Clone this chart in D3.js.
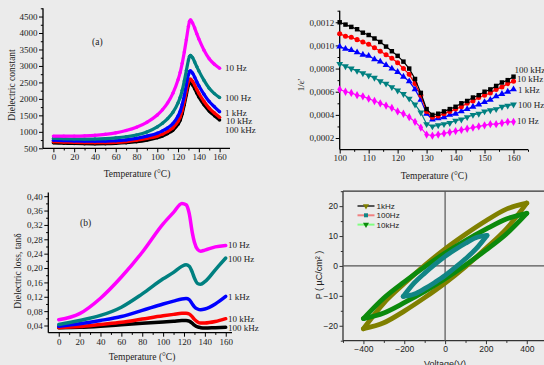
<!DOCTYPE html>
<html>
<head>
<meta charset="utf-8">
<script src="https://cdn.jsdelivr.net/npm/d3@7"></script>
<style>
body { margin: 0; background: #ebebeb; }
svg { display: block; }
</style>
</head>
<body>
<svg id="chart" width="544" height="365"></svg>
<script>
// ---- (a) dielectric constant vs temperature
const tempA = [0,10,20,30,40,50,60,70,80,90,100,105,110,115,120,122,124,126,128,130,131,132,134,136,138,140,145,150,155,160];
const epsA10Hz   = [870,868,870,878,895,925,970,1040,1140,1290,1510,1670,1880,2170,2580,2800,3080,3420,3800,4200,4350,4400,4300,4150,3980,3820,3480,3220,3050,2930];
const epsA100Hz  = [800,790,782,780,782,792,815,850,905,995,1150,1260,1400,1590,1880,2040,2260,2540,2860,3180,3290,3320,3250,3120,2980,2850,2560,2320,2160,2040];
const epsA1kHz   = [745,735,725,718,715,718,730,755,800,870,960,1030,1120,1250,1480,1620,1830,2100,2430,2740,2830,2850,2780,2660,2520,2400,2140,1920,1760,1610];
const epsA10kHz  = [700,690,680,673,670,672,682,705,745,800,870,930,1010,1120,1320,1450,1650,1920,2230,2520,2590,2600,2530,2420,2290,2170,1920,1720,1570,1440];
const epsA100kHz = [665,655,645,638,635,638,648,668,700,750,820,875,950,1050,1230,1350,1550,1820,2120,2410,2480,2490,2420,2310,2180,2060,1820,1630,1490,1360];

// ---- 1/eps' vs temperature
const tempB = d3.range(100, 161, 2);
const invB100kHz = [.00120,.00118,.00116,.00114,.00111,.00109,.00106,.00103,.00099,.00095,.00091,.00086,.00080,.00071,.00059,.00045,.00040,.00041,.00043,.00045,.00047,.00050,.00052,.00055,.00057,.00060,.00062,.00065,.00068,.00070,.00073];
const invB10kHz  = [.00110,.00108,.00107,.00105,.00103,.00101,.00098,.00095,.00092,.00089,.00085,.00080,.00075,.00067,.00057,.00043,.00038,.00039,.00041,.00043,.00045,.00047,.00050,.00052,.00055,.00057,.00059,.00062,.00064,.00067,.00069];
const invB1kHz   = [.00099,.00097,.00096,.00094,.00092,.00091,.00088,.00086,.00083,.00080,.00077,.00073,.00069,.00062,.00053,.00041,.00036,.00037,.00038,.00040,.00041,.00043,.00045,.00047,.00049,.00051,.00053,.00056,.00058,.00060,.00062];
const invB100Hz  = [.00084,.00082,.00080,.00078,.00076,.00074,.00072,.00069,.00067,.00064,.00061,.00058,.00054,.00049,.00042,.00032,.00030,.00031,.00032,.00033,.00035,.00036,.00038,.00040,.00041,.00043,.00044,.00045,.00047,.00048,.00049];
const invB10Hz   = [.00062,.00060,.00059,.00057,.00056,.00054,.00052,.00050,.00048,.00046,.00043,.00041,.00038,.00034,.00029,.00023,.00022,.00023,.00024,.00025,.00026,.00027,.00028,.00029,.00030,.00031,.00032,.00032,.00033,.00034,.00034];

// ---- (b) tan delta vs temperature
const tempC = [0,20,40,60,80,100,110,118,122,125,128,130,133,136,140,150,160];
const tanC10Hz   = [.056,.073,.116,.175,.244,.323,.355,.380,.376,.352,.298,.272,.252,.247,.250,.259,.263];
const tanC100Hz  = [.043,.054,.068,.091,.128,.170,.188,.205,.209,.205,.188,.172,.157,.155,.162,.195,.228];
const tanC1kHz   = [.038,.045,.054,.065,.082,.100,.108,.114,.115,.112,.100,.092,.086,.084,.086,.100,.121];
const tanC10kHz  = [.034,.037,.043,.049,.058,.067,.071,.074,.074,.072,.064,.057,.050,.047,.047,.051,.059];
const tanC100kHz = [.034,.035,.038,.042,.046,.050,.052,.054,.054,.052,.046,.041,.036,.034,.033,.034,.035];

// ---- P-V loops, upper (falling V) and lower (rising V) branch
const voltLoop = [-400,-300,-200,-100,0,100,200,300,400];
const pUpper1kHz  = [-21,-12.4,-5.9,0.2,5.7,10.6,15.1,19,21];
const pLower1kHz  = [-21,-19,-15.1,-10.6,-5.7,-0.2,5.9,12.4,21];
const pUpper10kHz = [-17.6,-10.7,-5.3,-0.3,4.3,8.5,12.3,15.7,17.6];
const pLower10kHz = [-17.6,-15.7,-12.3,-8.5,-4.3,0.3,5.3,10.7,17.6];
const voltLoop100 = [-205,-150,-100,-50,0,50,100,150,205];
const pUpper100Hz = [-10.2,-5.6,-2.4,0.5,3.2,5.5,7.6,9.4,10.2];
const pLower100Hz = [-10.2,-9.4,-7.6,-5.5,-3.2,-0.5,2.4,5.6,10.2];

const serif = "'Liberation Serif','Times New Roman',serif";
const sans = "'Liberation Sans',Arial,sans-serif";
const svg = d3.select("#chart");

const comma = f => v => f(v).replace(".", ",");

function frame(x, y, c) {
  const g = svg.append("g");
  const left = x.range()[0], bottom = y.range()[0];
  const col = c.color || "#000";
  // bottom ticks
  const bx = g.append("g").attr("transform", `translate(0,${bottom})`);
  bx.call(d3.axisBottom(x).tickValues(c.xMajor).tickSize(c.tick || 4).tickPadding(1.5).tickFormat(c.xFmt || d3.format("d")));
  bx.append("g").call(d3.axisBottom(x).tickValues(c.xMinor).tickSize(2.2).tickFormat(""));
  // left ticks
  const ly = g.append("g").attr("transform", `translate(${left},0)`);
  ly.call(d3.axisLeft(y).tickValues(c.yMajor).tickSize(c.tick || 4).tickPadding(1.5).tickFormat(c.yFmt || d3.format("d")));
  ly.append("g").call(d3.axisLeft(y).tickValues(c.yMinor).tickSize(2.2).tickFormat(""));
  g.selectAll(".domain").remove();
  g.selectAll(".tick line").attr("stroke", col).attr("stroke-width", 1);
  g.selectAll(".tick text").attr("fill", c.textColor || "#222").style("font-family", c.font).style("font-size", (c.fs || 9) + "px");
  // axis lines
  g.append("line").attr("x1", left).attr("x2", x.range()[1]).attr("y1", bottom).attr("y2", bottom).attr("stroke", col).attr("stroke-width", 1.3);
  g.append("line").attr("x1", left).attr("x2", left).attr("y1", bottom).attr("y2", y.range()[1]).attr("stroke", col).attr("stroke-width", 1.3);
  return g;
}

function label(txt, x, y, o = {}) {
  const t = svg.append("text").attr("x", x).attr("y", y)
    .style("font-family", o.font || serif).style("font-size", (o.fs || 9) + "px")
    .attr("fill", o.fill || "#222").attr("text-anchor", o.anchor || "start");
  if (o.rot) t.attr("transform", `rotate(-90,${x},${y})`);
  t.text(txt);
  return t;
}

// ================= (a)
{
  const x = d3.scaleLinear().domain([-10, 170]).range([43, 230]);
  const y = d3.scaleLinear().domain([500, 4750]).range([148.3, 8.3]);
  frame(x, y, {
    xMajor: d3.range(0, 161, 20), xMinor: d3.range(10, 170, 20),
    yMajor: d3.range(500, 4501, 500), yMinor: d3.range(750, 4751, 500), font: serif
  });
  const series = [
    [epsA100kHz, "#000"], [epsA10kHz, "#ff0000"], [epsA1kHz, "#0000ff"],
    [epsA100Hz, "#008080"], [epsA10Hz, "#ff00ff"]
  ];
  const line = d3.line().x((d, i) => x(tempA[i])).y(d => y(d)).curve(d3.curveMonotoneX);
  series.forEach(([vals, col]) => {
    svg.append("path").attr("d", line(vals)).attr("fill", "none").attr("stroke", col).attr("stroke-width", 3.2);
    svg.append("g").selectAll("circle").data(vals).join("circle")
      .attr("cx", (d, i) => x(tempA[i])).attr("cy", d => y(d)).attr("r", 1.7).attr("fill", col);
  });
  label("(a)", 92, 45, { fs: 9.5 });
  label("10 Hz", 225, 70.5);
  label("100 Hz", 225, 101);
  label("1 kHz", 225, 115.5);
  label("10 kHz", 226, 124);
  label("100 kHz", 225, 133);
  label("Dielectric constant", 14.5, 85, { rot: true, anchor: "middle", fs: 9.5 });
  label("Temperature (\u00B0C)", 137, 176.5, { anchor: "middle", fs: 9.5 });
}

// ================= 1/eps'
{
  const x = d3.scaleLinear().domain([100, 165]).range([339.7, 528]);
  const y = d3.scaleLinear().domain([0.0001, 0.0013]).range([149.6, 10.7]);
  frame(x, y, {
    xMajor: d3.range(100, 161, 10), xMinor: d3.range(105, 166, 10),
    yMajor: d3.range(0.0002, 0.00121, 0.0002), yMinor: d3.range(0.0003, 0.00131, 0.0002),
    yFmt: comma(d3.format(".4f")), font: serif
  });
  const series = [
    [invB10Hz, "#ff00ff", d3.symbolDiamond],
    [invB100Hz, "#008080", "down"],
    [invB1kHz, "#0000ff", d3.symbolTriangle],
    [invB10kHz, "#ff0000", d3.symbolCircle],
    [invB100kHz, "#000", d3.symbolSquare]
  ];
  const line = d3.line().x((d, i) => x(tempB[i])).y(d => y(d));
  series.forEach(([vals, col, sym]) => {
    svg.append("path").attr("d", line(vals)).attr("fill", "none").attr("stroke", col).attr("stroke-width", 1.2);
    const s = sym === "down" ? d3.symbolTriangle : sym;
    svg.append("g").selectAll("path").data(vals).join("path")
      .attr("d", d3.symbol(s, 20))
      .attr("transform", (d, i) => `translate(${x(tempB[i])},${y(d)})` + (sym === "down" ? " rotate(180)" : ""))
      .attr("fill", col);
  });
  label("100 kHz", 514.5, 73);
  label("10 kHz", 517, 82);
  label("1 kHz", 518, 92.5);
  label("100 Hz", 518, 108);
  label("10 Hz", 517, 124);
  label("1/\u03B5'", 304, 85, { rot: true, anchor: "middle", fs: 9 });
  label("Temperature (\u00B0C)", 434, 178.5, { anchor: "middle", fs: 9.5 });
}

// ================= (b)
{
  const x = d3.scaleLinear().domain([-10, 166]).range([48.3, 232]);
  const y = d3.scaleLinear().domain([0.02, 0.41]).range([332.7, 192.6]);
  frame(x, y, {
    xMajor: d3.range(0, 161, 20), xMinor: d3.range(10, 166, 20),
    yMajor: d3.range(0.04, 0.401, 0.04), yMinor: d3.range(0.06, 0.381, 0.04),
    yFmt: comma(d3.format(".2f")), font: serif
  });
  const series = [
    [tanC100kHz, "#000"], [tanC10kHz, "#ff0000"], [tanC1kHz, "#0000ff"],
    [tanC100Hz, "#008080"], [tanC10Hz, "#ff00ff"]
  ];
  const line = d3.line().x((d, i) => x(tempC[i])).y(d => y(d)).curve(d3.curveMonotoneX);
  series.forEach(([vals, col]) => {
    svg.append("path").attr("d", line(vals)).attr("fill", "none").attr("stroke", col).attr("stroke-width", 3.5).attr("stroke-linecap", "round");
  });
  label("(b)", 80, 226, { fs: 9.5 });
  label("10 Hz", 228, 248);
  label("100 Hz", 228, 262);
  label("1 kHz", 228, 300);
  label("10 kHz", 228, 322);
  label("100 kHz", 228, 331);
  label("Dielectric loss, tan\u03B4", 21, 271, { rot: true, anchor: "middle", fs: 9.5 });
  label("Temperature (\u00B0C)", 142, 359.5, { anchor: "middle", fs: 9.5 });
}

// ================= P-V loops
{
  const x = d3.scaleLinear().domain([-500, 500]).range([343, 547.2]);
  const y = d3.scaleLinear().domain([-25, 25]).range([340.7, 191.2]);
  const col = "#333";
  frame(x, y, {
    xMajor: d3.range(-400, 401, 200), xMinor: d3.range(-500, 501, 100).filter(v => v % 200 !== 0),
    yMajor: d3.range(-20, 21, 10), yMinor: d3.range(-25, 26, 5).filter(v => v % 10 !== 0),
    font: sans, fs: 8.5, color: col, textColor: "#222", tick: 3.5
  });
  svg.append("line").attr("x1", x(-500)).attr("x2", 544).attr("y1", y(25)).attr("y2", y(25)).attr("stroke", col).attr("stroke-width", 1.3);
  svg.append("line").attr("x1", x(0)).attr("x2", x(0)).attr("y1", y(25)).attr("y2", y(-25)).attr("stroke", "#555").attr("stroke-width", 1.2);
  svg.append("line").attr("x1", x(-500)).attr("x2", 544).attr("y1", y(0)).attr("y2", y(0)).attr("stroke", "#555").attr("stroke-width", 1.2);

  const loops = [
    [voltLoop, pUpper1kHz, pLower1kHz, "#808000"],
    [voltLoop, pUpper10kHz, pLower10kHz, "#0c8a0c"],
    [voltLoop100, pUpper100Hz, pLower100Hz, "#118585"]
  ];
  loops.forEach(([v, up, lo, c]) => {
    [up, lo].forEach(p => {
      const line = d3.line().x((d, i) => x(v[i])).y(d => y(d)).curve(d3.curveMonotoneX);
      svg.append("path").attr("d", line(p)).attr("fill", "none").attr("stroke", c)
        .attr("stroke-width", 4.8).attr("stroke-linejoin", "round").attr("stroke-linecap", "round");
    });
  });

  const legend = [
    ["1kHz", "#555", "#808000", "down"],
    ["100Hz", "#f08080", "#118585", "square"],
    ["10kHz", "#80ff80", "#0c8a0c", "down"]
  ];
  legend.forEach(([t, lc, mc, m], i) => {
    const yy = 206 + i * 9.3;
    svg.append("line").attr("x1", 357.5).attr("x2", 374.5).attr("y1", yy).attr("y2", yy).attr("stroke", lc).attr("stroke-width", 2);
    svg.append("path").attr("d", d3.symbol(m === "down" ? d3.symbolTriangle : d3.symbolSquare, 16))
      .attr("transform", `translate(366,${yy})` + (m === "down" ? " rotate(180)" : ""))
      .attr("fill", mc);
    label(t, 376.5, yy + 3, { font: sans, fs: 8 });
  });
  label("P ( \u00B5C/cm\u00B2 )", 322, 275, { rot: true, anchor: "middle", font: sans, fs: 9 });
  label("Voltage(V)", 445, 367, { anchor: "middle", font: sans, fs: 9 });
}
</script>
</body>
</html>
